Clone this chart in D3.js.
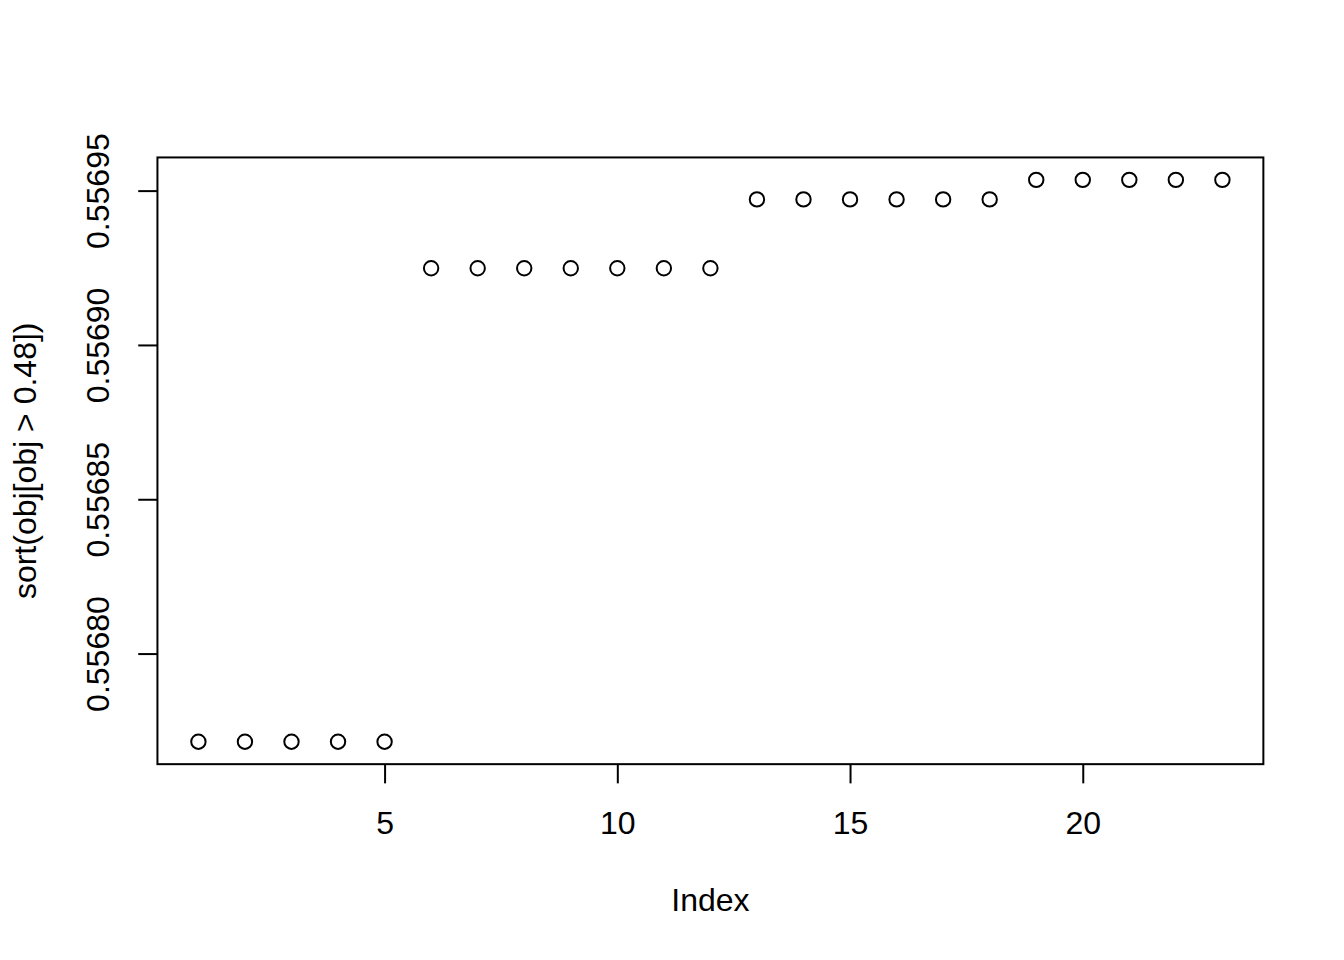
<!DOCTYPE html>
<html>
<head>
<meta charset="utf-8">
<script src="https://cdn.jsdelivr.net/npm/d3@7"></script>
<style>
  html, body { margin: 0; padding: 0; background: #fff; }
  svg { display: block; }
  text { font-family: "Liberation Sans", Arial, Helvetica, sans-serif; fill: #000; }
</style>
</head>
<body>
<svg id="chart" width="1344" height="960"></svg>
<script>
// ---- data ----
const indices = d3.range(1, 24);
const values = [
  0.55677145, 0.55677145, 0.55677145, 0.55677145, 0.55677145,
  0.55692485, 0.55692485, 0.55692485, 0.55692485, 0.55692485, 0.55692485, 0.55692485,
  0.55694715, 0.55694715, 0.55694715, 0.55694715, 0.55694715, 0.55694715,
  0.55695347, 0.55695347, 0.55695347, 0.55695347, 0.55695347
];
const xTicks = [5, 10, 15, 20];
const yTicks = [0.55680, 0.55685, 0.55690, 0.55695];
const xLabel = "Index";
const yLabel = "sort(obj[obj > 0.48])";

(function () {
  // ---- layout (R default margins at 192 dpi) ----
  const W = 1344, H = 960;
  const lineH = 38.4;
  const pL = 4.1 * lineH, pR = W - 2.1 * lineH;
  const pT = 4.1 * lineH, pB = H - 5.1 * lineH;

  function expand(ext) {
    const d = (ext[1] - ext[0]) * 0.04;
    return [ext[0] - d, ext[1] + d];
  }
  const x = d3.scaleLinear().domain(expand(d3.extent(indices))).range([pL, pR]);
  const y = d3.scaleLinear().domain(expand(d3.extent(values))).range([pB, pT]);

  const svg = d3.select("#chart");

  // box
  svg.append("rect")
    .attr("x", pL).attr("y", pT)
    .attr("width", pR - pL).attr("height", pB - pT)
    .attr("fill", "none").attr("stroke", "#000").attr("stroke-width", 2);

  // x axis
  const gx = svg.append("g")
    .attr("transform", `translate(0,${pB})`)
    .call(d3.axisBottom(x).tickValues(xTicks).tickSize(19.2).tickSizeOuter(0).tickFormat(d3.format("d")));
  gx.select(".domain").remove();
  gx.selectAll(".tick line").attr("stroke", "#000").attr("stroke-width", 2);
  gx.selectAll(".tick text")
    .attr("y", 834 - pB).attr("dy", null)
    .attr("font-size", 32).attr("font-family", null)
    .attr("fill", "#000")
    .attr("text-anchor", "middle");
  gx.attr("font-size", null).attr("font-family", null);

  // y axis
  const gy = svg.append("g")
    .attr("transform", `translate(${pL},0)`)
    .call(d3.axisLeft(y).tickValues(yTicks).tickSize(19.2).tickSizeOuter(0).tickFormat(d3.format(".5f")));
  gy.select(".domain").remove();
  gy.selectAll(".tick line").attr("stroke", "#000").attr("stroke-width", 2);
  gy.selectAll(".tick text")
    .attr("x", 0).attr("y", 0).attr("dy", null)
    .attr("font-size", 32).attr("font-family", null)
    .attr("fill", "#000")
    .attr("text-anchor", "middle")
    .attr("transform", `translate(${108.5 - pL},0) rotate(-90)`);
  gy.attr("font-size", null).attr("font-family", null);

  // points
  svg.append("g").selectAll("circle")
    .data(indices)
    .join("circle")
    .attr("cx", d => x(d))
    .attr("cy", (d, i) => y(values[i]))
    .attr("r", 7.2)
    .attr("fill", "none")
    .attr("stroke", "#000")
    .attr("stroke-width", 2);

  // axis titles
  svg.append("text")
    .attr("x", (pL + pR) / 2).attr("y", 910.7)
    .attr("text-anchor", "middle").attr("font-size", 32)
    .text(xLabel);
  svg.append("text")
    .attr("transform", `translate(35.5,${(pT + pB) / 2}) rotate(-90)`)
    .attr("text-anchor", "middle").attr("font-size", 32)
    .text(yLabel);
})();
</script>
</body>
</html>
